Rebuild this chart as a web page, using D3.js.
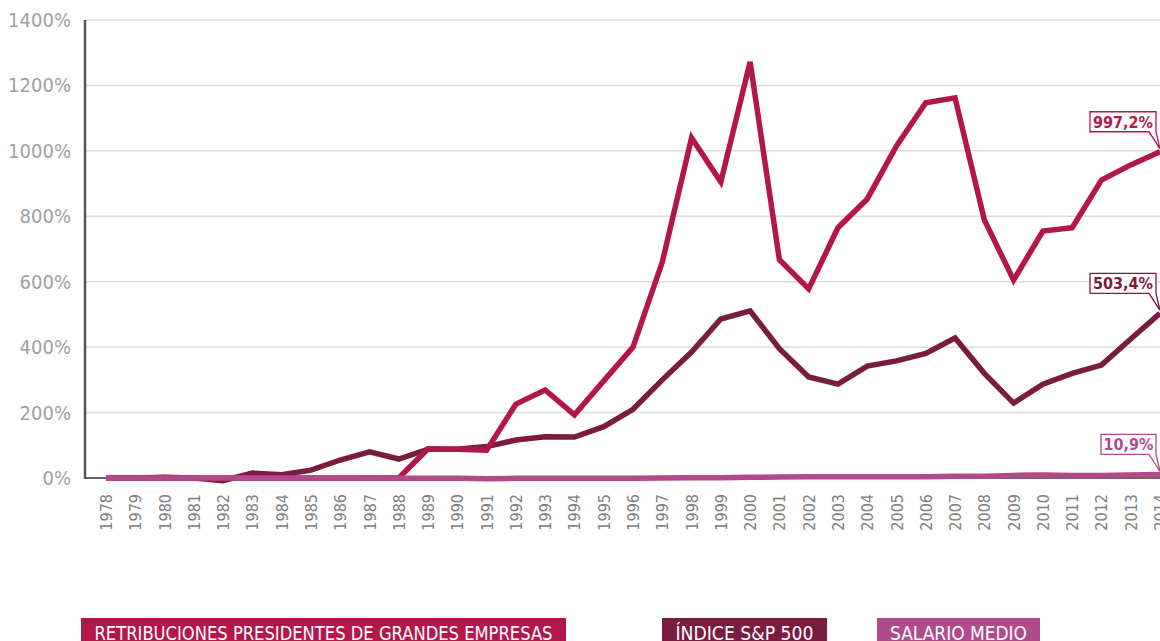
<!DOCTYPE html>
<html>
<head>
<meta charset="utf-8">
<script src="https://cdn.jsdelivr.net/npm/d3@7"></script>
<style>
  body { margin: 0; background: #fff; }
  svg { display: block; }
  text { font-family: 'Liberation Sans Narrow', 'DejaVu Sans Condensed', 'Roboto', sans-serif; }
</style>
</head>
<body>
<div id="chart"></div>
<script>
// data
var years = d3.range(1978, 2015);
var retribuciones = [0, 0, 0, 0, 0, 0, 0, 0, 0, 0, 0, 89, 88, 85, 226, 269, 193, 297, 400, 660, 1040, 905, 1272, 667, 578, 765, 853, 1015, 1147, 1162, 789, 605, 755, 765, 911, 957, 997.2];
var sp500 = [0, 0, 2, 0, -8, 15, 10, 24, 55, 80, 58, 88, 88, 96, 116, 126, 125, 157, 210, 300, 385, 486, 511, 395, 309, 287, 342, 358, 381, 428, 320, 229, 287, 320, 345, 425, 503.4];
var salario = [0, 0, 0, 0, 0, 0, 0, 0, 0, -1, -1, -1, -1, -2, -1, -1, -1, -1, -1, 0, 1, 1, 2, 3, 4, 4, 4, 4, 4, 5, 5, 8, 9, 8, 8, 9, 10.9];
var yTicks = [0, 200, 400, 600, 800, 1000, 1200, 1400];
var seriesNames = ['RETRIBUCIONES PRESIDENTES DE GRANDES EMPRESAS', 'ÍNDICE S&P 500', 'SALARIO MEDIO'];
var endLabels = ['997,2%', '503,4%', '10,9%'];

var colors = ['#b3174a', '#791c3f', '#b14a89'];

var width = 1160, height = 641;

var svg = d3.select('#chart')
  .append('svg')
  .attr('width', width)
  .attr('height', height);

var x = d3.scaleLinear().domain([1978, 2014]).range([106, 1160]);
var y = d3.scaleLinear().domain([0, 1400]).range([478, 20]);

// gridlines
svg.selectAll('.grid')
  .data(yTicks.slice(1))
  .enter()
  .append('line')
  .attr('x1', 85)
  .attr('x2', width)
  .attr('y1', function (d) { return y(d); })
  .attr('y2', function (d) { return y(d); })
  .style('stroke', '#dcdcdc')
  .style('stroke-width', 1.5);

// y tick labels
svg.selectAll('.ylab')
  .data(yTicks)
  .enter()
  .append('text')
  .attr('x', 71)
  .attr('y', function (d) { return y(d) + 7; })
  .attr('text-anchor', 'end')
  .style('font-size', '20px')
  .style('fill', '#a0a0a0')
  .text(function (d) { return d + '%'; });

// x axis baseline
svg.append('line')
  .attr('x1', 85).attr('x2', width)
  .attr('y1', y(0)).attr('y2', y(0))
  .style('stroke', '#666')
  .style('stroke-width', 2);

// year labels, rotated
svg.selectAll('.xlab')
  .data(years)
  .enter()
  .append('text')
  .attr('transform', function (d) { return 'translate(' + (x(d) + 6) + ',' + 494 + ') rotate(-90)'; })
  .attr('text-anchor', 'end')
  .style('font-size', '16px')
  .style('fill', '#808080')
  .text(function (d) { return d; });

// lines
var line = d3.line()
  .x(function (d, i) { return x(years[i]); })
  .y(function (d) { return y(d); });

var allSeries = [sp500, retribuciones, salario];
var allColors = [colors[1], colors[0], colors[2]];
allSeries.forEach(function (s, i) {
  svg.append('path')
    .datum(s)
    .attr('d', line)
    .style('fill', 'none')
    .style('stroke', allColors[i])
    .style('stroke-width', 5.5)
    .style('stroke-linejoin', 'miter');
});

// y axis line
svg.append('line')
  .attr('x1', 85).attr('x2', 85)
  .attr('y1', 20).attr('y2', y(0) + 1)
  .style('stroke', '#555')
  .style('stroke-width', 2.5);

// end callouts
var endValues = [997.2, 503.4, 10.9];
var boxWidths = [66, 66, 55];
endValues.forEach(function (v, i) {
  var tipX = x(2014), tipY = y(v);
  var bottom = tipY - 20, top = bottom - 20;
  var right = tipX - 4, left = right - boxWidths[i];
  var p = 'M' + left + ',' + top + 'H' + right + 'V' + bottom +
    'L' + (tipX) + ',' + (tipY - 3) + 'L' + (right - 7) + ',' + bottom + 'H' + left + 'Z';
  svg.append('path')
    .attr('d', p)
    .style('fill', '#fff')
    .style('stroke', colors[i])
    .style('stroke-width', 1.3);
  svg.append('text')
    .attr('x', (left + right) / 2)
    .attr('y', bottom - 4)
    .attr('text-anchor', 'middle')
    .style('font-size', '16px')
    .style('font-weight', 'bold')
    .style('fill', colors[i])
    .text(endLabels[i]);
});

// legend
var legendX = [81, 662, 877];
var legendW = [485, 165, 163];
var legendTextW = [458, 138, 137];
seriesNames.forEach(function (name, i) {
  svg.append('rect')
    .attr('x', legendX[i])
    .attr('y', 618)
    .attr('width', legendW[i])
    .attr('height', 30)
    .style('fill', colors[i]);
  svg.append('text')
    .attr('x', legendX[i] + (legendW[i] - legendTextW[i]) / 2)
    .attr('y', 640)
    .attr('textLength', legendTextW[i])
    .attr('lengthAdjust', 'spacingAndGlyphs')
    .style('font-size', '19px')
    .style('fill', '#fff')
    .text(name);
});
</script>
</body>
</html>
